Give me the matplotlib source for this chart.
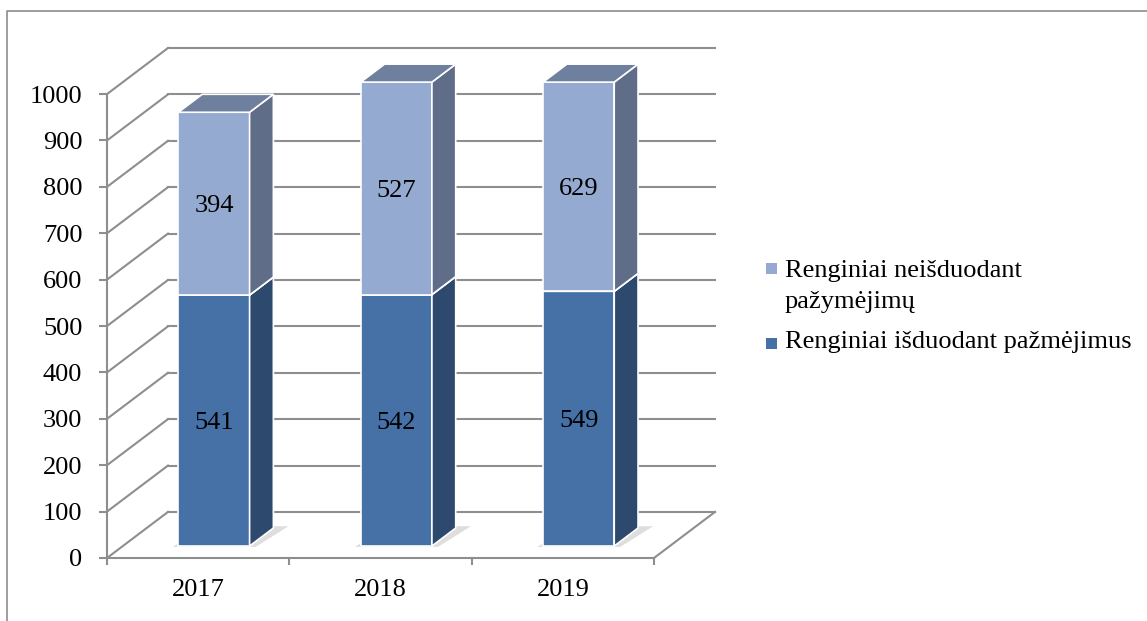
import matplotlib
matplotlib.use('Agg')
import matplotlib.pyplot as plt
from matplotlib.patches import Polygon, Rectangle
from matplotlib.lines import Line2D

# ---- data ----
years = ['2017', '2018', '2019']
issued = [541, 542, 549]            # Renginiai išduodant pažmėjimus
not_issued = [394, 527, 629]        # Renginiai neišduodant pažymėjimų
series_names = ['Renginiai išduodant pažmėjimus', 'Renginiai neišduodant pažymėjimų']
y_ticks = [0, 100, 200, 300, 400, 500, 600, 700, 800, 900, 1000]
y_max = 1000

# ---- style ----
plt.rcParams['font.family'] = ['Liberation Serif', 'DejaVu Serif']
W, H = 1147, 621
FS = 19
grid_c = '#8e8e8e'
front_c = ['#4571a6', '#95aad0']
side_c = ['#2d4a6e', '#5f6d88']
top_c = ['#3a5a88', '#6f7f9e']

# 3D pseudo-projection: depth offsets in data units
DXc = 0.3346   # category units for full depth
DYv = 99.35    # value units for full depth
bar_w = 0.39
d0, d1 = 0.26, 0.65


def P(x, y, d):
    return (x + d * DXc, y + d * DYv)


fig = plt.figure(figsize=(W / 100, H / 100), dpi=100)
ax = fig.add_axes([107 / W, 63 / H, 608 / W, 510 / H])
ax.set_xlim(0.5, 3.5 + DXc)
ax.set_ylim(0, y_max + DYv)
ax.patch.set_alpha(0)

for s in ['top', 'right']:
    ax.spines[s].set_visible(False)
ax.spines['left'].set_bounds(0, y_max)
ax.spines['bottom'].set_bounds(0.5, 3.5)
for s in ['left', 'bottom']:
    ax.spines[s].set_color(grid_c)
    ax.spines[s].set_linewidth(1.5)
    ax.spines[s].set_zorder(1)

ax.set_yticks(y_ticks)
ax.set_yticklabels([str(v) for v in y_ticks])
ax.tick_params(axis='y', direction='out', length=5.8, width=1.5, color=grid_c,
               pad=12, labelsize=FS)

x_pos = [1, 2, 3]
ax.set_xticks(x_pos)
ax.set_xticklabels(years)
ax.set_xticks([0.5, 1.5, 2.5, 3.5], minor=True)
ax.tick_params(axis='x', which='major', length=0, pad=15, labelsize=FS)
ax.tick_params(axis='x', which='minor', direction='out', length=5, width=1.5, color=grid_c)

# walls: side-wall diagonals and back-wall gridlines
for v in y_ticks:
    xa, ya = P(0.5, v, 0)
    xb, yb = P(0.5, v, 1)
    xc, yc = P(3.5, v, 1)
    ax.add_line(Line2D([xa, xb], [ya, yb], color=grid_c, lw=1.5, clip_on=False, zorder=1))
    ax.add_line(Line2D([xb, xc], [yb, yc], color=grid_c, lw=1.5, clip_on=False, zorder=1))
# floor right edge
xa, ya = P(3.5, 0, 0)
xb, yb = P(3.5, 0, 1)
ax.add_line(Line2D([xa, xb], [ya, yb], color=grid_c, lw=1.5, clip_on=False, zorder=1))

# soft shadows under bars
for x in x_pos:
    xl, xr = x - bar_w / 2, x + bar_w / 2
    pts = [P(xl - 0.025, 0, d0 - 0.02), P(xr + 0.04, 0, d0 - 0.02),
           P(xr + 0.07, 0, d1 + 0.04), P(xl, 0, d1 + 0.04)]
    ax.add_patch(Polygon(pts, closed=True, facecolor='#c4c4c4', edgecolor='none',
                         alpha=0.55, zorder=2))

# stacked pseudo-3D bars
bottoms = [0, 0, 0]
for k, vals in enumerate([issued, not_issued]):
    for i, x in enumerate(x_pos):
        yb = bottoms[i]
        yt = min(yb + vals[i], y_max)
        if yb >= y_max:
            continue
        xl, xr = x - bar_w / 2, x + bar_w / 2
        # front face
        ax.bar(x + d0 * DXc, yt - yb, bottom=yb + d0 * DYv, width=bar_w,
               color=front_c[k], edgecolor='white', linewidth=1.2, zorder=3)
        # side face
        ax.add_patch(Polygon([P(xr, yb, d0), P(xr, yb, d1), P(xr, yt, d1), P(xr, yt, d0)],
                             closed=True, facecolor=side_c[k], edgecolor='white',
                             linewidth=1.2, zorder=3))
        # top face
        ax.add_patch(Polygon([P(xl, yt, d0), P(xr, yt, d0), P(xr, yt, d1), P(xl, yt, d1)],
                             closed=True, facecolor=top_c[k], edgecolor='white',
                             linewidth=1.2, zorder=3))
        lx, ly = P(x, (yb + yt) / 2, d0)
        ax.annotate(str(vals[i]), (lx, ly), xytext=(0, -0.33 * FS), textcoords='offset points',
                    ha='center', va='baseline', fontsize=FS, zorder=5)
    bottoms = [b + v for b, v in zip(bottoms, vals)]

# legend (manual, Excel style: top series first)
fig.add_artist(Rectangle((766 / W, (H - 274) / H), 11 / W, 11 / H,
                         transform=fig.transFigure, facecolor=front_c[1], edgecolor='none'))
fig.text(785 / W, (H - 277) / H, 'Renginiai neišduodant', fontsize=FS, va='baseline', ha='left')
fig.text(785 / W, (H - 308) / H, 'pažymėjimų', fontsize=FS, va='baseline', ha='left')
fig.add_artist(Rectangle((766 / W, (H - 349) / H), 11 / W, 11 / H,
                         transform=fig.transFigure, facecolor=front_c[0], edgecolor='none'))
fig.text(785 / W, (H - 348) / H, series_names[0], fontsize=FS, va='baseline', ha='left')

# outer frame
fig.add_artist(Line2D([7.5 / W, 7.5 / W, 1.0], [0, (H - 10.5) / H, (H - 10.5) / H],
                      transform=fig.transFigure, color='#8c8c8c', lw=1.2))

fig.savefig('out.png', dpi=100)
